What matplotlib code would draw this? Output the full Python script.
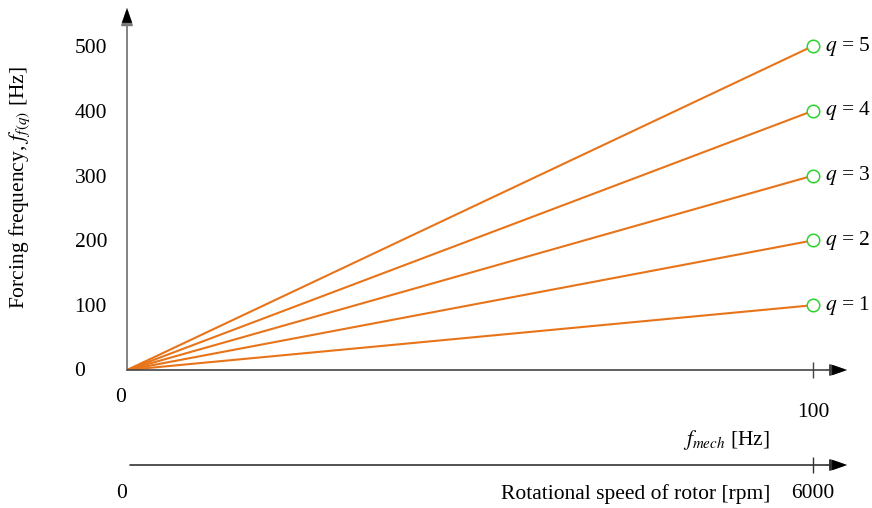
import matplotlib
matplotlib.use("Agg")
import matplotlib.pyplot as plt
import numpy as np

plt.rcParams["font.family"] = ["Liberation Serif", "DejaVu Serif"]
plt.rcParams["mathtext.fontset"] = "stix"

# harmonic orders and the mechanical frequency range
orders = [1, 2, 3, 4, 5]
f_mech = [0, 100]            # Hz
y_ticks = [100, 200, 300, 400, 500]
rpm_max = 6000
rpm_per_hz = 60

line_color = "#E8741A"
marker_color = "#2BD42B"
fs = 15.5

W, H, DPI = 872, 508, 100
fig = plt.figure(figsize=(W / DPI, H / DPI), dpi=DPI)

# main axes: origin at pixel (127, 370), x up to 847 px, y up to 10 px
x0, y0, x1, y1 = 127, 370, 847, 8
ax = fig.add_axes([x0 / W, (H - y0) / H, (x1 - x0) / W, (y0 - y1) / H])
px_per_hz = (813 - 127) / 100.0
px_per_unit = (370 - 46) / 500.0
ax.set_xlim(0, (x1 - x0) / px_per_hz)
ax.set_ylim(0, (y0 - y1) / px_per_unit)
for s in ax.spines.values():
    s.set_visible(False)

for q in orders:
    fx = np.array(f_mech, dtype=float)
    fy = q * fx
    ax.plot(fx, fy, color=line_color, lw=1.5, solid_capstyle="round", zorder=3)
    ax.plot(fx[-1], fy[-1], "o", ms=9, mfc="white", mec=marker_color, mew=1.1, zorder=4)
    ax.text(fx[-1] + 1.8, fy[-1], r"$q$ = %d" % q, fontsize=fs, va="center", ha="left")

# axis lines with arrowheads
arrow = dict(arrowstyle="-|>,head_length=0.75,head_width=0.26", mutation_scale=14,
             shrinkA=0, shrinkB=0)
ax.annotate("", xy=(0, 1.0), xytext=(0, 0), xycoords="axes fraction",
            arrowprops=dict(color="#7a7a7a", lw=1.3, **arrow))
ax.annotate("", xy=(0, 1.0), xytext=(0, 0.97), xycoords="axes fraction",
            arrowprops=dict(color="black", lw=0.1, **arrow))
ax.annotate("", xy=(1, 0), xytext=(0, 0), xycoords="axes fraction",
            arrowprops=dict(color="#444444", lw=1.2, **arrow))
ax.annotate("", xy=(1, 0), xytext=(0.97, 0), xycoords="axes fraction",
            arrowprops=dict(color="black", lw=0.1, **arrow))

# y tick labels
ax.set_yticks(y_ticks)
ax.set_yticklabels([str(v) for v in y_ticks], fontsize=fs)
ax.tick_params(axis="y", length=0, pad=14.4)
ax.text(-47 / px_per_hz, -2 / px_per_unit, "0", fontsize=fs, ha="center", va="center")

# x tick at 100 Hz
ax.set_xticks([f_mech[-1]])
ax.set_xticklabels([str(f_mech[-1])], fontsize=fs)
ax.tick_params(axis="x", direction="inout", length=11.5, width=1.0, color="#444444", pad=18)
ax.text(-6 / px_per_hz, -28 / px_per_unit, "0", fontsize=fs, ha="center", va="center")

fig.text(20 / W, 1 - 188 / H, r"Forcing frequency, $f_{f(q)}$ [Hz]", fontsize=fs,
         rotation=90, ha="center", va="center")

# secondary axis: rotational speed in rpm
ya = 465
ax2 = fig.add_axes([x0 / W, (H - ya) / H, (x1 - x0) / W, 0.0001])
ax2.set_xlim(0, (x1 - x0) / px_per_hz * rpm_per_hz)
ax2.set_ylim(0, 1)
for s in ax2.spines.values():
    s.set_visible(False)
ax2.set_yticks([])
ax2.annotate("", xy=(1, 0), xytext=(3 / (x1 - x0), 0), xycoords="axes fraction",
             arrowprops=dict(color="#333333", lw=1.2, **arrow))
ax2.annotate("", xy=(1, 0), xytext=(0.97, 0), xycoords="axes fraction",
             arrowprops=dict(color="black", lw=0.1, **arrow))
ax2.set_xticks([rpm_max])
ax2.set_xticklabels([str(rpm_max)], fontsize=fs)
ax2.tick_params(axis="x", direction="inout", length=11.5, width=1.0, color="#333333", pad=8)

fig.text(122 / W, 1 - 494 / H, "0", fontsize=fs, ha="center", va="center")
fig.text(770 / W, 1 - 440 / H, r"$f_{mech}$ [Hz]", fontsize=fs, ha="right", va="center")
fig.text(770 / W, 1 - 494 / H, "Rotational speed of rotor [rpm]", fontsize=fs,
         ha="right", va="center")

fig.savefig("out.png", dpi=DPI)
